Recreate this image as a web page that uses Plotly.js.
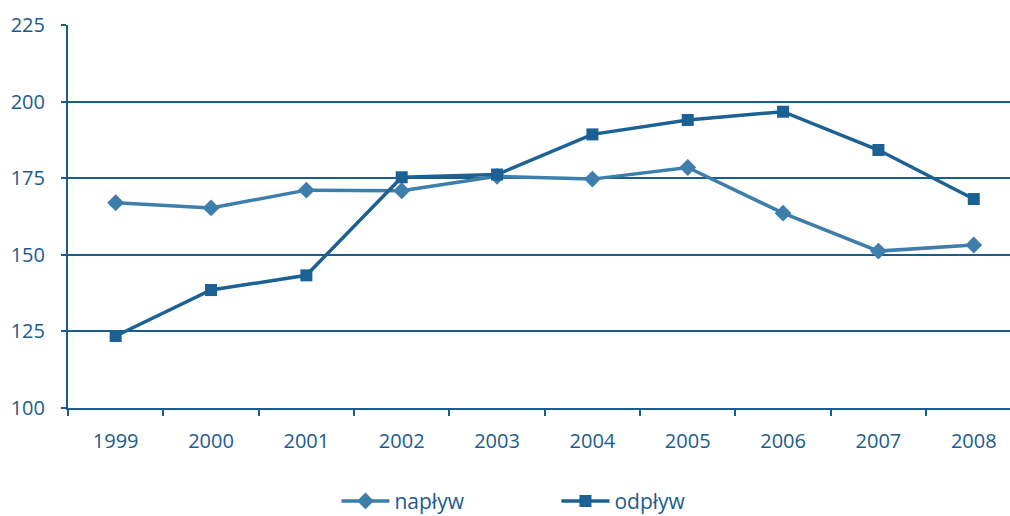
<!DOCTYPE html>
<html>
<head>
<meta charset="utf-8">
<script src="https://cdn.plot.ly/plotly-3.0.1.min.js"></script>
<style>html,body{margin:0;padding:0;background:#fff;}#chart{width:1010px;height:516px;}</style>
</head>
<body>
<div id="chart"></div>
<script>
const years = ["1999","2000","2001","2002","2003","2004","2005","2006","2007","2008"];
const naplyw = [167, 165.3, 171.1, 170.9, 175.6, 174.7, 178.5, 163.6, 151.2, 153.2];
const odplyw = [123.5, 138.5, 143.3, 175.3, 176.2, 189.3, 194, 196.7, 184.2, 168.2];
const yTicks = [100, 125, 150, 175, 200, 225];

const axisColor = "#1b5c8c";
const fontFamily = "'Open Sans', 'DejaVu Sans', sans-serif";

const traces = [
  {x: years, y: naplyw, name: "napływ", type: "scatter", mode: "lines+markers",
   line: {color: "#3d7eab", width: 3.5},
   marker: {symbol: "diamond", size: 13, color: "#3d7eab"}},
  {x: years, y: odplyw, name: "odpływ", type: "scatter", mode: "lines+markers",
   line: {color: "#1c6193", width: 3.5},
   marker: {symbol: "square", size: 12, color: "#1c6193"}}
];

const layout = {
  width: 1010, height: 516,
  margin: {l: 68, r: 0, t: 25, b: 108, autoexpand: false},
  paper_bgcolor: "#fff", plot_bgcolor: "#fff",
  font: {family: fontFamily, color: axisColor, size: 20},
  showlegend: true,
  legend: {orientation: "h", x: 0.285, xanchor: "left", y: -0.19, yanchor: "top",
           font: {size: 21, color: axisColor}, entrywidth: 157, entrywidthmode: "pixels",
           itemwidth: 48},
  xaxis: {type: "category", range: [-0.5, 9.38], showgrid: false, showline: true,
          linecolor: axisColor, linewidth: 2, ticks: "outside", tickson: "boundaries",
          ticklen: 6, tickwidth: 2, tickcolor: axisColor, ticklabelstandoff: 14,
          tickfont: {size: 20, color: axisColor}, zeroline: false, fixedrange: true},
  yaxis: {range: [100, 225], tickvals: yTicks, showgrid: true, gridcolor: axisColor, gridwidth: 2,
          showline: true, linecolor: axisColor, linewidth: 2, ticks: "outside", ticklen: 5,
          tickwidth: 2, tickcolor: axisColor, ticklabelstandoff: 12,
          tickfont: {size: 20, color: axisColor}, zeroline: false, fixedrange: true}
};

Plotly.newPlot("chart", traces, layout, {displayModeBar: false, staticPlot: true});
</script>
</body>
</html>
